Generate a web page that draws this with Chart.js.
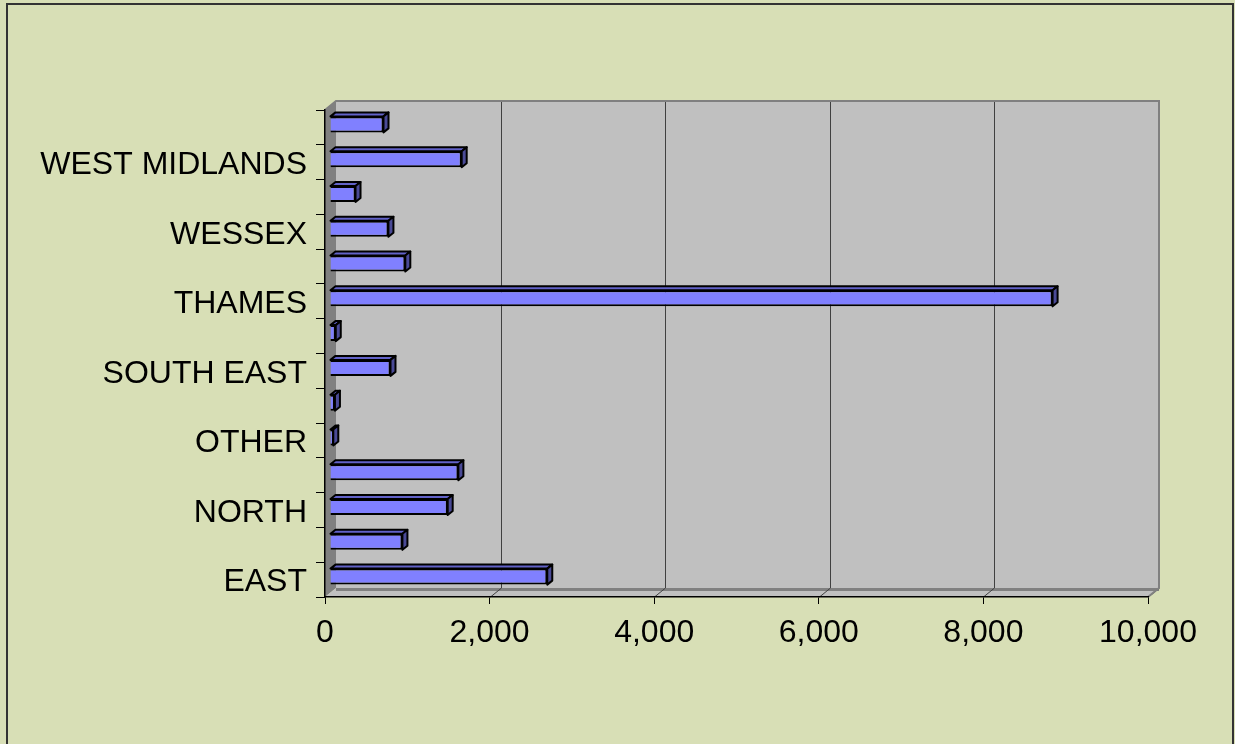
<!DOCTYPE html>
<html>
<head>
<meta charset="utf-8">
<script src="https://cdn.jsdelivr.net/npm/chart.js@4/dist/chart.umd.min.js"></script>
<style>
  html, body { margin: 0; padding: 0; overflow: hidden; background: #d8dfb6; }
  canvas { display: block; }
</style>
</head>
<body>
<canvas id="chart" width="1235" height="744"></canvas>
<script>
// categories bottom to top, only every other one carries a label in the picture
var regions = ['EAST', '', 'NORTH', '', 'OTHER', '', 'SOUTH EAST', '', 'THAMES', '', 'WESSEX', '', 'WEST MIDLANDS', '']
var counts = [2640, 880, 1430, 1560, 40, 60, 735, 70, 8780, 915, 710, 310, 1600, 650]
var xTicks = [0, 2000, 4000, 6000, 8000, 10000]

var DEPTH_X = 11, DEPTH_Y = 9     // depth of the box (walls)
var BAR_DX = 5, BAR_DY = 3        // bars sit half way into the box

var box3d = {
  id: 'box3d',
  beforeDraw: function (chart) {
    var c = chart.ctx, a = chart.chartArea, x = chart.scales.x
    c.save()
    c.fillStyle = '#d8dfb6'
    c.fillRect(0, 0, chart.width, chart.height)
    c.strokeStyle = '#333'
    c.lineWidth = 2
    c.strokeRect(7, 4, 1226, 800)

    var bl = a.left + DEPTH_X, bt = a.top - DEPTH_Y, br = a.right + DEPTH_X, bb = a.bottom - DEPTH_Y
    // back wall
    c.fillStyle = '#c0c0c0'
    c.fillRect(bl, bt, br - bl, bb - bt)
    // left wall
    c.fillStyle = '#808080'
    c.beginPath()
    c.moveTo(a.left, a.top); c.lineTo(bl, bt); c.lineTo(bl, bb); c.lineTo(a.left, a.bottom)
    c.closePath(); c.fill()
    // floor
    c.fillStyle = '#c0c0c0'
    c.beginPath()
    c.moveTo(a.left, a.bottom); c.lineTo(bl, bb); c.lineTo(br, bb); c.lineTo(a.right, a.bottom)
    c.closePath(); c.fill()
    c.fillStyle = '#808080'
    c.fillRect(bl, bb, br - bl, 3)

    // grid lines on back wall and floor
    c.strokeStyle = '#404040'
    c.lineWidth = 1
    xTicks.forEach(function (v) {
      var px = Math.round(x.getPixelForValue(v)) + 0.5
      if (v > 0 && v < 10000) {
        c.beginPath(); c.moveTo(px + DEPTH_X, bt); c.lineTo(px + DEPTH_X, bb); c.stroke()
      }
      if (v > 0) {
        c.beginPath(); c.moveTo(px, a.bottom); c.lineTo(px + DEPTH_X, bb); c.stroke()
      }
    })
    // back wall edges
    c.strokeStyle = '#808080'
    c.lineWidth = 2
    c.beginPath()
    c.moveTo(a.left, a.top); c.lineTo(bl, bt); c.lineTo(br, bt); c.lineTo(br, bb); c.lineTo(a.right, a.bottom)
    c.stroke()
    c.restore()
  },
  beforeDatasetsDraw: function (chart) {
    chart.ctx.save()
    chart.ctx.translate(BAR_DX, -BAR_DY)
  },
  afterDatasetsDraw: function (chart) {
    var c = chart.ctx
    var d = 5, dy = 4
    chart.getDatasetMeta(0).data.forEach(function (el) {
      var p = el.getProps(['x', 'y', 'base', 'height'], true)
      var top = p.y - p.height / 2, bot = p.y + p.height / 2
      c.lineWidth = 2
      c.strokeStyle = '#000'
      c.lineJoin = 'round'
      // top face
      c.fillStyle = '#6262c8'
      c.beginPath()
      c.moveTo(p.base, top); c.lineTo(p.base + d, top - dy); c.lineTo(p.x + d, top - dy); c.lineTo(p.x, top)
      c.closePath(); c.fill(); c.stroke()
      // side face
      c.fillStyle = '#4a4a96'
      c.beginPath()
      c.moveTo(p.x, top); c.lineTo(p.x + d, top - dy); c.lineTo(p.x + d, bot - dy); c.lineTo(p.x, bot)
      c.closePath(); c.fill(); c.stroke()
    })
    c.restore()
  }
}

var ctx = document.getElementById('chart').getContext('2d')
var chart = new Chart(ctx, {
  type: 'bar',
  data: {
    labels: regions,
    datasets: [{
      data: counts,
      backgroundColor: '#8080ff',
      borderColor: '#000',
      borderWidth: 2,
      barPercentage: 0.46,
      categoryPercentage: 1,
      clip: false
    }]
  },
  options: {
    indexAxis: 'y',
    responsive: false,
    animation: false,
    devicePixelRatio: 1,
    layout: { padding: { top: 110, right: 87, left: 0, bottom: 0 } },
    plugins: { legend: { display: false }, tooltip: { enabled: false } },
    scales: {
      x: {
        min: 0,
        max: 10000,
        afterFit: function (s) { s.height = 147 },
        afterBuildTicks: function (s) { s.ticks = xTicks.map(function (v) { return { value: v } }) },
        ticks: {
          color: '#000',
          padding: 10,
          maxRotation: 0,
          font: { family: '"Liberation Sans", Arial, sans-serif', size: 32 },
          callback: function (v) { return v.toLocaleString('en-US') }
        },
        grid: { drawOnChartArea: false, tickLength: 7, tickColor: '#000', tickWidth: 1 },
        border: { display: true, color: '#000', width: 1.5 }
      },
      y: {
        reverse: true,
        afterFit: function (s) { s.width = 325 },
        ticks: {
          color: '#000',
          padding: 9,
          labelOffset: 3,
          autoSkip: false,
          font: { family: '"Liberation Sans", Arial, sans-serif', size: 32 }
        },
        grid: { drawOnChartArea: false, offset: true, tickLength: 9, tickColor: '#000', tickWidth: 1 },
        border: { display: true, color: '#000', width: 1.5 }
      }
    }
  },
  plugins: [box3d]
})
</script>
</body>
</html>
